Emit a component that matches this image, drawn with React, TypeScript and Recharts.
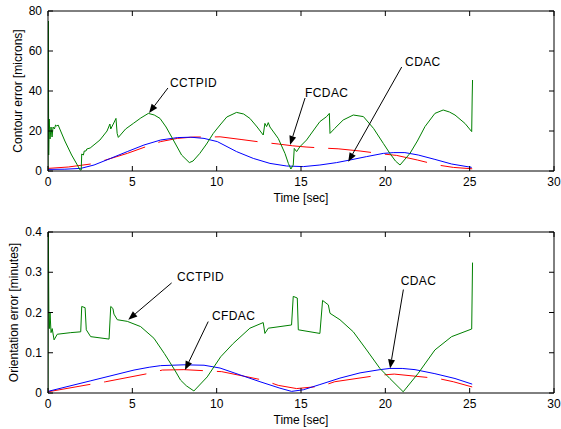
import React from 'react';
import { LineChart, Line, XAxis, YAxis, ReferenceLine, ReferenceDot } from 'recharts';

// ---------- data ----------
const timeTicks = [0, 5, 10, 15, 20, 25, 30];
const contourTicks = [0, 20, 40, 60, 80];
const orientTicks = [0, 0.1, 0.2, 0.3, 0.4];

// Contour error [microns] — [time, value]
const contourCCTPID: number[][] = [
  [0, 0], [0.02, 75], [0.04, 8], [0.07, 26], [0.12, 16], [0.18, 22], [0.24, 17], [0.3, 22], [0.38, 21],
  [0.45, 23], [0.52, 22.5], [0.6, 23], [1.0, 15], [1.4, 8], [1.74, 3], [1.9, 0.5], [1.97, 0.5], [2.0, 8.5],
  [2.1, 8], [2.15, 10], [2.25, 10], [2.3, 11], [2.5, 11.5], [3.08, 15.5], [3.5, 20], [3.67, 23.5], [3.72, 21],
  [3.9, 24], [4.03, 26.3], [4.1, 18.8], [4.17, 16.8], [4.6, 21], [5.06, 23.8], [5.5, 26.5], [5.95, 28.8],
  [6.3, 28], [6.64, 26.3], [7.0, 22], [7.43, 15.5], [7.92, 8], [8.38, 4.2], [8.6, 5], [9.0, 8.8], [9.4, 13.5],
  [9.8, 18.8], [10.2, 23], [10.6, 27], [11.18, 29.3], [11.6, 28.5], [11.97, 26.3], [12.4, 22], [12.76, 18],
  [12.86, 23.8], [12.96, 22.2], [13.06, 24.2], [13.16, 22], [13.65, 16.3], [14.05, 8.8], [14.25, 3.8],
  [14.4, 1], [14.54, 3], [14.6, 11.3], [14.74, 9.7], [14.94, 12.2], [15.33, 15.5], [15.8, 21], [16.12, 24.7],
  [16.52, 27.2], [16.68, 28.8], [16.72, 18.8], [17.0, 21.3], [17.5, 25.5], [18.1, 28], [18.7, 27.2],
  [19.3, 21.3], [19.88, 13.8], [20.27, 8.8], [20.6, 5], [20.87, 3], [21.46, 8.8], [21.9, 15], [22.35, 22.2],
  [22.94, 28.8], [23.43, 30.5], [23.8, 29.5], [24.13, 28], [24.72, 23.8], [25.12, 19.7], [25.15, 37], [25.17, 45.5],
];
const contourCDAC: number[][] = [
  [0, 0.8], [1, 0.9], [1.94, 1.3], [2.73, 3], [3.71, 6.3], [4.7, 9.7], [5.69, 13], [6.68, 15.5], [7.67, 16.7],
  [8.46, 16.9], [9.25, 16.3], [10.04, 14.7], [11.18, 9.7], [12.17, 6.3], [13.16, 3.8], [14.15, 2.5],
  [15.14, 2.2], [16.12, 3], [17.11, 4.2], [17.9, 5.5], [18.89, 7.2], [19.88, 8.8], [20.5, 9.2], [21.16, 9.2],
  [21.95, 8], [22.94, 5.8], [23.93, 3.5], [25.12, 1.8],
];
const contourFCDAC: number[][] = [
  [0, 1.3], [1.2, 2], [2.53, 3.5], [3.42, 5.5], [4.7, 8.8], [5.69, 11.8], [6.68, 14.7], [7.67, 16.3],
  [8.65, 17], [9.64, 17], [10.2, 17.1], [11.5, 15.7], [12.76, 14.3], [13.65, 13.5], [14.5, 12.6], [15.3, 12],
  [16.22, 11.5], [17.2, 11.1], [18.5, 10], [19.88, 8.5], [20.67, 7.8], [21.9, 5.5], [23.1, 3], [24.03, 1.8],
  [25.15, 1.1],
];

// Orientation error [minutes] — [time, value]
const orientCCTPID: number[][] = [
  [0, 0], [0.02, 0.4], [0.05, 0.2], [0.08, 0.16], [0.12, 0.2], [0.18, 0.15], [0.25, 0.16], [0.36, 0.132],
  [0.55, 0.146], [1.35, 0.15], [1.94, 0.152], [2.0, 0.215], [2.2, 0.212], [2.27, 0.157], [2.53, 0.14],
  [3.62, 0.134], [3.72, 0.215], [3.85, 0.21], [3.91, 0.196], [4.11, 0.182], [4.7, 0.178], [5.49, 0.165],
  [6.28, 0.136], [6.9, 0.098], [7.5, 0.058], [7.86, 0.032], [8.2, 0.018], [8.65, 0.005], [9.44, 0.04],
  [10.24, 0.09], [10.98, 0.123], [11.97, 0.161], [12.76, 0.175], [12.86, 0.148], [13.06, 0.161],
  [14.44, 0.169], [14.54, 0.24], [14.78, 0.236], [14.84, 0.157], [16.12, 0.148], [16.28, 0.23],
  [16.62, 0.219], [16.72, 0.198], [17.31, 0.182], [18.1, 0.152], [18.89, 0.107], [19.68, 0.061],
  [20.27, 0.036], [21.06, 0.003], [21.95, 0.049], [22.94, 0.107], [23.93, 0.14], [25.12, 0.159], [25.17, 0.324],
];
const orientCDAC: number[][] = [
  [0, 0.004], [2.5, 0.03], [5.1, 0.057], [6.0, 0.064], [6.68, 0.068], [8.06, 0.07], [9.25, 0.069],
  [10.2, 0.062], [11.38, 0.045], [12.57, 0.028], [13.75, 0.012], [14.44, 0.004], [15.14, 0.008],
  [16.12, 0.021], [17.31, 0.037], [18.5, 0.05], [19.68, 0.058], [20.27, 0.061], [21.0, 0.061],
  [21.76, 0.058], [22.94, 0.048], [24.13, 0.036], [25.15, 0.022],
];
const orientCFDAC: number[][] = [
  [0, 0.003], [2.43, 0.021], [3.42, 0.028], [5.89, 0.048], [6.78, 0.057], [8.06, 0.058], [9.44, 0.055],
  [10.3, 0.053], [12.76, 0.032], [13.65, 0.019], [14.74, 0.011], [16.22, 0.017], [17.0, 0.028],
  [19.58, 0.044], [20.53, 0.047], [23.14, 0.036], [24.03, 0.028], [25.15, 0.015],
];

// annotations (text anchor + arrow tail/head, in data units)
const contourNotes = [
  { label: 'CCTPID', tx: 7.23, ty: 44, ax: 7.11, ay: 41.5, hx: 5.99, hy: 29 },
  { label: 'FCDAC', tx: 15.24, ty: 39, ax: 15.24, ay: 36.5, hx: 14.35, hy: 13 },
  { label: 'CDAC', tx: 21.17, ty: 54.5, ax: 20.97, ay: 52, hx: 17.8, hy: 4.6 },
];
const orientNotes = [
  { label: 'CCTPID', tx: 7.65, ty: 0.289, ax: 7.33, ay: 0.2735, hx: 4.76, hy: 0.182 },
  { label: 'CFDAC', tx: 9.72, ty: 0.1925, ax: 9.5, ay: 0.1775, hx: 8.12, hy: 0.057 },
  { label: 'CDAC', tx: 20.91, ty: 0.279, ax: 21.07, ay: 0.257, hx: 20.28, hy: 0.061 },
];

// ---------- rendering helpers ----------
const FONT = '"Liberation Sans", Arial, Helvetica, sans-serif';
const toPts = (arr: number[][]) => arr.map(([t, v]) => ({ t, v }));

const BottomTick = (p: any) => (
  <g>
    <line x1={p.x} y1={p.y} x2={p.x} y2={p.y - 5} stroke="#000" />
    <text x={p.x} y={p.y + 11} textAnchor="middle" dominantBaseline="central" fontSize={12} fontFamily={FONT} fill="#000">
      {p.payload.value}
    </text>
  </g>
);
const TopTick = (p: any) => <line x1={p.x} y1={p.y} x2={p.x} y2={p.y + 5} stroke="#000" />;
const LeftTick = (p: any) => (
  <g>
    <line x1={p.x} y1={p.y} x2={p.x + 5} y2={p.y} stroke="#000" />
    <text x={p.x - 6} y={p.y} textAnchor="end" dominantBaseline="central" fontSize={12} fontFamily={FONT} fill="#000">
      {p.payload.value}
    </text>
  </g>
);
const RightTick = (p: any) => <line x1={p.x} y1={p.y} x2={p.x - 5} y2={p.y} stroke="#000" />;

const ArrowShape = (p: any) => {
  const { x1, y1, x2, y2 } = p;
  if ([x1, y1, x2, y2].some((v) => typeof v !== 'number' || isNaN(v))) return <g />;
  const dx = x2 - x1;
  const dy = y2 - y1;
  const L = Math.hypot(dx, dy) || 1;
  const ux = dx / L;
  const uy = dy / L;
  const hl = 9;
  const hw = 3.5;
  const bx = x2 - ux * hl;
  const by = y2 - uy * hl;
  return (
    <g>
      <line x1={x1} y1={y1} x2={bx} y2={by} stroke="#000" strokeWidth={1} />
      <polygon points={`${x2},${y2} ${bx - uy * hw},${by + ux * hw} ${bx + uy * hw},${by - ux * hw}`} fill="#000" />
    </g>
  );
};

const makeTextShape = (label: string) => (p: any) => (
  <text x={p.cx} y={p.cy} textAnchor="start" dominantBaseline="central" fontSize={12} fontFamily={FONT} fill="#000" letterSpacing={0.4}>
    {label}
  </text>
);

const xLabel = {
  content: (p: any) => {
    const vb = p.viewBox || {};
    return (
      <text x={vb.x + vb.width / 2} y={vb.y + 27} textAnchor="middle" dominantBaseline="central" fontSize={12} fontFamily={FONT} fill="#000">
        Time [sec]
      </text>
    );
  },
};
const yLabel = (text: string, dx: number) => ({
  content: (p: any) => {
    const vb = p.viewBox || {};
    const cx = vb.x + dx;
    const cy = vb.y + vb.height / 2;
    return (
      <text x={cx} y={cy} transform={`rotate(-90 ${cx} ${cy})`} textAnchor="middle" dominantBaseline="central" fontSize={12} fontFamily={FONT} fill="#000">
        {text}
      </text>
    );
  },
});

type Note = { label: string; tx: number; ty: number; ax: number; ay: number; hx: number; hy: number };

function Panel(props: {
  height: number;
  margin: { top: number; right: number; bottom: number; left: number };
  yMax: number;
  yTicks: number[];
  yTitle: string;
  yTitleDx: number;
  green: number[][];
  blue: number[][];
  red: number[][];
  notes: Note[];
}) {
  const { height, margin, yMax, yTicks, yTitle, yTitleDx, green, blue, red, notes } = props;
  return (
    <LineChart width={561} height={height} margin={margin}>
      <XAxis
        xAxisId="b"
        dataKey="t"
        type="number"
        domain={[0, 30]}
        ticks={timeTicks}
        allowDataOverflow
        height={30}
        tickSize={0}
        tickMargin={0}
        tick={<BottomTick />}
        tickLine={false}
        axisLine={{ stroke: '#000' }}
        label={xLabel}
        interval={0}
      />
      <XAxis
        xAxisId="t"
        dataKey="t"
        orientation="top"
        type="number"
        domain={[0, 30]}
        ticks={timeTicks}
        allowDataOverflow
        height={1}
        tickSize={0}
        tickMargin={0}
        tick={<TopTick />}
        tickLine={false}
        axisLine={{ stroke: '#000' }}
        interval={0}
      />
      <YAxis
        yAxisId="l"
        type="number"
        domain={[0, yMax]}
        ticks={yTicks}
        allowDataOverflow
        width={40}
        tickSize={0}
        tickMargin={0}
        tick={<LeftTick />}
        tickLine={false}
        axisLine={{ stroke: '#000' }}
        label={yLabel(yTitle, yTitleDx)}
        interval={0}
      />
      <YAxis
        yAxisId="r"
        orientation="right"
        type="number"
        domain={[0, yMax]}
        ticks={yTicks}
        allowDataOverflow
        width={1}
        tickSize={0}
        tickMargin={0}
        tick={<RightTick />}
        tickLine={false}
        axisLine={{ stroke: '#000' }}
        interval={0}
      />
      {/* invisible series that ties the mirrored box axes to the same scales */}
      <Line xAxisId="t" yAxisId="r" data={toPts(green)} dataKey="v" type="linear" stroke="none" strokeWidth={0}
        dot={false} activeDot={false} isAnimationActive={false} legendType="none" />
      <Line xAxisId="b" yAxisId="l" data={toPts(red)} dataKey="v" type="linear" stroke="#ff0000" strokeWidth={1}
        strokeDasharray="43 14" dot={false} activeDot={false} isAnimationActive={false} />
      <Line xAxisId="b" yAxisId="l" data={toPts(blue)} dataKey="v" type="linear" stroke="#0000ff" strokeWidth={1}
        dot={false} activeDot={false} isAnimationActive={false} />
      <Line xAxisId="b" yAxisId="l" data={toPts(green)} dataKey="v" type="linear" stroke="#008000" strokeWidth={1}
        dot={false} activeDot={false} isAnimationActive={false} />
      {notes.map((n) => (
        <ReferenceLine
          key={'a' + n.label}
          xAxisId="b"
          yAxisId="l"
          segment={[{ x: n.ax, y: n.ay }, { x: n.hx, y: n.hy }]}
          shape={ArrowShape}
          ifOverflow="visible"
        />
      ))}
      {notes.map((n) => (
        <ReferenceDot
          key={'t' + n.label}
          xAxisId="b"
          yAxisId="l"
          x={n.tx}
          y={n.ty}
          r={0}
          shape={makeTextShape(n.label)}
          ifOverflow="visible"
        />
      ))}
    </LineChart>
  );
}

export default function App() {
  return (
    <div style={{ position: 'absolute', left: 0, top: 0, width: 561, height: 429, background: '#fff' }}>
      <div style={{ position: 'absolute', left: 0, top: 0 }}>
        <Panel
          height={215}
          margin={{ top: 10, right: 6, bottom: 14, left: 8 }}
          yMax={80}
          yTicks={contourTicks}
          yTitle="Contour error [microns]"
          yTitleDx={10}
          green={contourCCTPID}
          blue={contourCDAC}
          red={contourFCDAC}
          notes={contourNotes}
        />
      </div>
      <div style={{ position: 'absolute', left: 0, top: 221 }}>
        <Panel
          height={208}
          margin={{ top: 10, right: 6, bottom: 6, left: 8 }}
          yMax={0.4}
          yTicks={orientTicks}
          yTitle="Orientation error [minutes]"
          yTitleDx={6}
          green={orientCCTPID}
          blue={orientCDAC}
          red={orientCFDAC}
          notes={orientNotes}
        />
      </div>
    </div>
  );
}
